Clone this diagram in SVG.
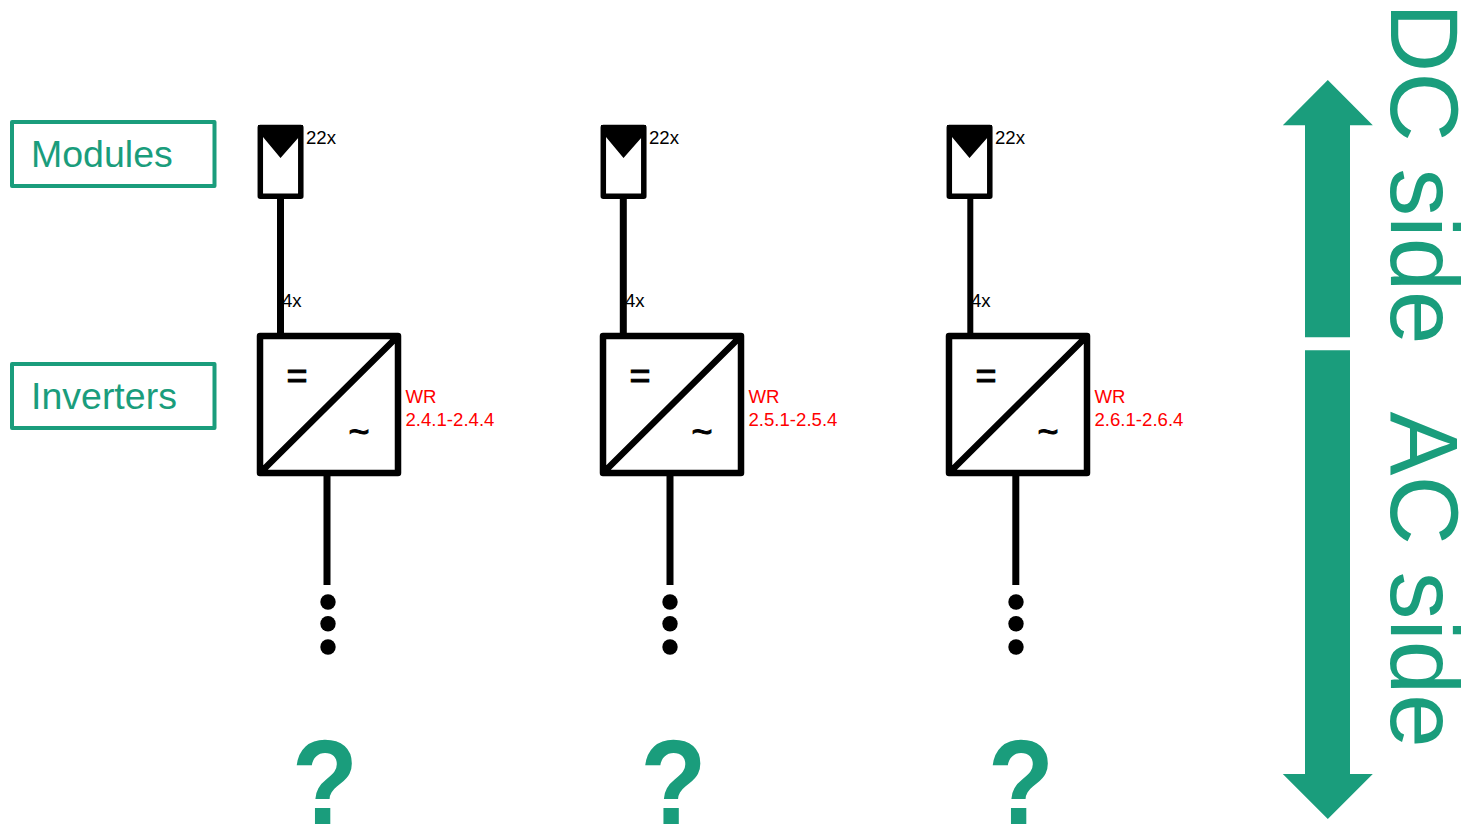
<svg xmlns="http://www.w3.org/2000/svg" width="1466" height="826" viewBox="0 0 1466 826">
<style>
.k{fill:none;stroke:#000;stroke-width:6.500;stroke-linejoin:round}
.m{fill:none;stroke:#000;stroke-width:5.500;stroke-linejoin:round}
.w{fill:none;stroke:#000;stroke-width:7}
.tag{fill:#fff;stroke:#1a9d7c;stroke-width:4;stroke-linejoin:round}
text{font-family:"Liberation Sans",Arial,sans-serif}
.g{fill:#1a9d7c}
.lab{font-size:37.500px}
.big{font-size:96px}
.q{font-size:118px;font-weight:bold;text-anchor:middle}
.s{font-size:18.600px;fill:#000}
.r{font-size:18.600px;fill:#f00}
.sym{font-size:36px;fill:#000;stroke:#000;stroke-width:1;text-anchor:middle}
</style>
<rect width="1466" height="826" fill="#fff"/>
<g id="connectors">
<path class="w" d="M280.500 199V333M327 476V585"/>
<path class="w" d="M623.300 199V333M670 476V585"/>
<path class="w" style="stroke-width:6" d="M970.300 199V333"/>
<path class="w" d="M1015.800 476V585"/>
</g>
<g id="label-modules"><rect class="tag" x="12" y="122" width="202.500" height="64"/><text class="g lab" x="31" y="167">Modules</text></g>
<g id="label-inverters"><rect class="tag" x="12" y="364" width="202.500" height="64"/><text class="g lab" x="31" y="409">Inverters</text></g>
<g id="module-1"><path class="m" d="M260.300 127.500H300.800V196.300H260.300Z"/><path d="M258 125H303V137H299L280.500 158L263 137H258Z"/><text class="s" x="306" y="144">22x</text></g>
<g id="module-2" transform="translate(343 0)"><path class="m" d="M260.300 127.500H300.800V196.300H260.300Z"/><path d="M258 125H303V137H299L280.500 158L263 137H258Z"/><text class="s" x="306" y="144">22x</text></g>
<g id="module-3" transform="translate(689 0)"><path class="m" d="M260.300 127.500H300.800V196.300H260.300Z"/><path d="M258 125H303V137H299L280.500 158L263 137H258Z"/><text class="s" x="306" y="144">22x</text></g>
<g id="inverter-1"><path class="k" d="M260 336H398V473H260ZM260 473L398 336"/><text class="s" x="282" y="307">4x</text><text class="sym" x="297" y="388">=</text><text class="sym" x="359" y="444">~</text><text class="r" x="405.500" y="403">WR</text><text class="r" x="405.500" y="426">2.4.1-2.4.4</text></g>
<g id="inverter-2" transform="translate(343 0)"><path class="k" d="M260 336H398V473H260ZM260 473L398 336"/><text class="s" x="282" y="307">4x</text><text class="sym" x="297" y="388">=</text><text class="sym" x="359" y="444">~</text><text class="r" x="405.500" y="403">WR</text><text class="r" x="405.500" y="426">2.5.1-2.5.4</text></g>
<g id="inverter-3" transform="translate(689 0)"><path class="k" d="M260 336H398V473H260ZM260 473L398 336"/><text class="s" x="282" y="307">4x</text><text class="sym" x="297" y="388">=</text><text class="sym" x="359" y="444">~</text><text class="r" x="405.500" y="403">WR</text><text class="r" x="405.500" y="426">2.6.1-2.6.4</text></g>
<g id="dots-1"><circle cx="328" cy="602" r="7.700"/><circle cx="328" cy="623.700" r="7.700"/><circle cx="328" cy="647" r="7.700"/></g>
<g id="dots-2"><circle cx="670" cy="602" r="7.700"/><circle cx="670" cy="623.700" r="7.700"/><circle cx="670" cy="647" r="7.700"/></g>
<g id="dots-3"><circle cx="1016" cy="602" r="7.700"/><circle cx="1016" cy="623.700" r="7.700"/><circle cx="1016" cy="647" r="7.700"/></g>
<g id="question-1"><text class="g q" transform="translate(325 824) scale(.92 1.02)">?</text></g>
<g id="question-2"><text class="g q" transform="translate(673.500 824) scale(.92 1.02)">?</text></g>
<g id="question-3"><text class="g q" transform="translate(1021 824) scale(.92 1.02)">?</text></g>
<g id="dc-arrow"><path class="g" d="M1327.800 80L1372.800 125.300H1350V337.300H1305V125.300H1282.800Z"/></g>
<g id="ac-arrow"><path class="g" d="M1305 350.300H1350V774H1372.800L1327.800 819L1282.800 774H1305Z"/></g>
<g id="dc-label"><text class="g big" transform="translate(1391 3) rotate(90)">DC side</text></g>
<g id="ac-label"><text class="g big" transform="translate(1391 411.500) rotate(90)">AC side</text></g>
</svg>
